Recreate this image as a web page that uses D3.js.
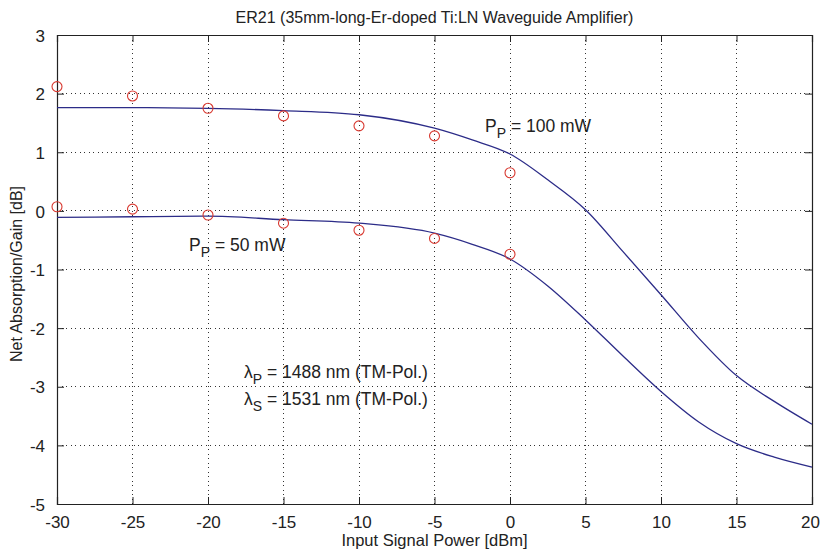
<!DOCTYPE html>
<html>
<head>
<meta charset="utf-8">
<script src="https://cdn.jsdelivr.net/npm/d3@7"></script>
<style>
  html, body { margin: 0; padding: 0; background: #fff; }
  svg { display: block; }
  text { font-family: 'Liberation Sans', Arial, sans-serif; fill: #222; }
</style>
</head>
<body>
<svg id="chart" width="820" height="552"></svg>
<script>
// ---- data ----
const titleText = "ER21 (35mm-long-Er-doped Ti:LN Waveguide Amplifier)";
const xLabel = "Input Signal Power [dBm]";
const yLabel = "Net Absorption/Gain [dB]";
const xTicks = [-30, -25, -20, -15, -10, -5, 0, 5, 10, 15, 20];
const yTicks = [-5, -4, -3, -2, -1, 0, 1, 2, 3];
// measured points (circles)
const measX = [-30, -25, -20, -15, -10, -5, 0];
const meas100 = [2.12, 1.96, 1.75, 1.62, 1.45, 1.28, 0.65];
const meas50 = [0.07, 0.03, -0.07, -0.21, -0.33, -0.47, -0.74];
// simulated curves
const simX = [-30, -25, -20, -15, -10, -5, -2.5, 0, 2.5, 5, 7.5, 10, 12.5, 15, 17.5, 20];
const sim100 = [1.76, 1.76, 1.75, 1.71, 1.64, 1.41, 1.21, 0.97, 0.53, 0.02, -0.70, -1.43, -2.17, -2.81, -3.25, -3.64];
const sim50 = [-0.11, -0.10, -0.09, -0.15, -0.21, -0.38, -0.57, -0.82, -1.28, -1.86, -2.48, -3.08, -3.60, -3.97, -4.20, -4.37];

// ---- layout ----
const W = 820, H = 552;
const m = { left: 57, top: 35, right: 8, bottom: 48 };
const iw = W - m.left - m.right, ih = H - m.top - m.bottom;
const svg = d3.select("#chart");
const g = svg.append("g").attr("transform", `translate(${m.left},${m.top})`);

const x = d3.scaleLinear().domain([-30, 20]).range([0, iw]);
const y = d3.scaleLinear().domain([-5, 3]).range([ih, 0]);

// grid
const gridColor = "#333";
g.append("g").selectAll("line").data(xTicks.slice(1, -1)).join("line")
  .attr("x1", d => x(d)).attr("x2", d => x(d)).attr("y1", 0).attr("y2", ih)
  .attr("stroke", gridColor).attr("stroke-width", 1).attr("stroke-dasharray", "1,3.5")
  .attr("shape-rendering", "crispEdges");
g.append("g").selectAll("line").data(yTicks.slice(1, -1)).join("line")
  .attr("x1", 0).attr("x2", iw).attr("y1", d => y(d)).attr("y2", d => y(d))
  .attr("stroke", gridColor).attr("stroke-width", 1).attr("stroke-dasharray", "1,3.5")
  .attr("shape-rendering", "crispEdges");

// axes (inward ticks on all sides)
const tl = 7;
const fs = 17;
const fmt = d => String(d);
const axB = g.append("g").attr("transform", `translate(0,${ih})`)
  .call(d3.axisBottom(x).tickValues(xTicks).tickSize(-tl).tickPadding(tl + 5).tickFormat(fmt));
const axT = g.append("g")
  .call(d3.axisTop(x).tickValues(xTicks).tickSize(-tl).tickFormat(""));
const axL = g.append("g")
  .call(d3.axisLeft(y).tickValues(yTicks).tickSize(-tl).tickPadding(tl + 5).tickFormat(fmt));
const axR = g.append("g").attr("transform", `translate(${iw},0)`)
  .call(d3.axisRight(y).tickValues(yTicks).tickSize(-tl).tickFormat(""));
[axB, axT, axL, axR].forEach(a => {
  a.select(".domain").attr("stroke", "#222").attr("stroke-width", 1.2);
  a.selectAll(".tick line").attr("stroke", "#222").attr("stroke-width", 1);
  a.selectAll("text").style("font-size", fs + "px").attr("fill", "#222")
    .style("font-family", "'Liberation Sans', Arial, sans-serif");
});
axL.selectAll("text").attr("dy", "0.36em");
// keep the rightmost label inside the canvas
axB.selectAll(".tick text").filter(d => d === xTicks[xTicks.length - 1]).attr("dx", -2);

// curves
const line = d3.line().x(d => x(d[0])).y(d => y(d[1])).curve(d3.curveMonotoneX);
[sim100, sim50].forEach(s => {
  g.append("path").datum(simX.map((v, i) => [v, s[i]]))
    .attr("d", line).attr("fill", "none").attr("stroke", "#2c2c88").attr("stroke-width", 1.3);
});

// measured circles
[meas100, meas50].forEach(s => {
  g.append("g").selectAll("circle").data(measX.map((v, i) => [v, s[i]])).join("circle")
    .attr("cx", d => x(d[0])).attr("cy", d => y(d[1])).attr("r", 5)
    .attr("fill", "none").attr("stroke", "#d8382f").attr("stroke-width", 1.1);
});

// annotations
const afs = 17.5;
function annot(px, py, sym, sub, rest) {
  const t = svg.append("text").attr("x", px).attr("y", py).style("font-size", afs + "px");
  t.append("tspan").text(sym);
  t.append("tspan").attr("dy", 6).style("font-size", "14px").text(sub);
  t.append("tspan").attr("dy", -6).text(rest);
}
annot(485, 132, "P", "P", " = 100 mW");
annot(189, 251, "P", "P", " = 50 mW");
annot(244, 378, "λ", "P", " = 1488 nm (TM-Pol.)");
annot(244, 405, "λ", "S", " = 1531 nm (TM-Pol.)");

// title & labels
svg.append("text").attr("x", m.left + iw / 2).attr("y", 23).attr("text-anchor", "middle")
  .style("font-size", "16px").text(titleText);
svg.append("text").attr("x", m.left + iw / 2).attr("y", 546).attr("text-anchor", "middle")
  .style("font-size", "16.5px").text(xLabel);
svg.append("text").attr("transform", `translate(22,274) rotate(-90)`)
  .attr("text-anchor", "middle").style("font-size", "16px").text(yLabel);
</script>
</body>
</html>
